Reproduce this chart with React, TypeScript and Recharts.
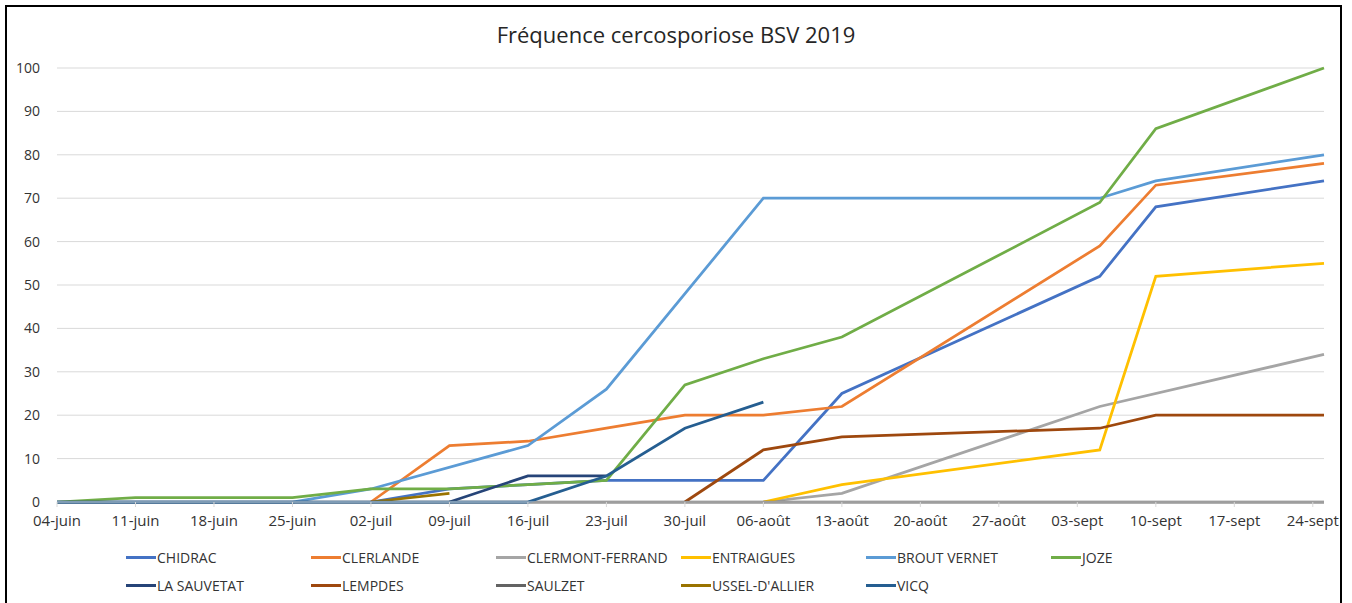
import { LineChart, Line, XAxis, YAxis, CartesianGrid } from 'recharts'

// x values are days counted from 04-juin (day 0)
const TICK_LABELS = [
  '04-juin', '11-juin', '18-juin', '25-juin', '02-juil', '09-juil', '16-juil', '23-juil',
  '30-juil', '06-août', '13-août', '20-août', '27-août', '03-sept', '10-sept', '17-sept', '24-sept',
]
const TICK_DAYS = TICK_LABELS.map((_, i) => i * 7)
const Y_TICKS = [0, 10, 20, 30, 40, 50, 60, 70, 80, 90, 100]

// [day, fréquence]
const CHIDRAC = [[28, 0], [35, 3], [42, 4], [49, 5], [56, 5], [63, 5], [70, 25], [93, 52], [98, 68], [113, 74]]
const CLERLANDE = [[28, 0], [35, 13], [42, 14], [49, 17], [56, 20], [63, 20], [70, 22], [93, 59], [98, 73], [113, 78]]
const CLERMONT = [[63, 0], [70, 2], [93, 22], [113, 34]]
const ENTRAIGUES = [[63, 0], [70, 4], [93, 12], [98, 52], [113, 55]]
const BROUT_VERNET = [[0, 0], [7, 0], [14, 0], [21, 0], [28, 3], [42, 13], [49, 26], [63, 70], [93, 70], [98, 74], [113, 80]]
const JOZE = [[0, 0], [7, 1], [14, 1], [21, 1], [28, 3], [35, 3], [42, 4], [49, 5], [56, 27], [63, 33], [70, 38], [93, 69], [98, 86], [113, 100]]
const LA_SAUVETAT = [[35, 0], [42, 6], [49, 6]]
const LEMPDES = [[56, 0], [63, 12], [70, 15], [93, 17], [98, 20], [113, 20]]
const SAULZET = [[0, 0], [7, 0], [14, 0], [21, 0], [28, 0], [35, 0], [42, 0], [49, 0], [56, 0], [63, 0], [70, 0], [93, 0], [98, 0], [113, 0]]
const USSEL = [[28, 0], [35, 2]]
const VICQ = [[0, 0], [7, 0], [14, 0], [21, 0], [28, 0], [35, 0], [42, 0], [49, 6], [56, 17], [63, 23]]

const SERIES = [
  { name: 'CHIDRAC', color: '#4472C4', pts: CHIDRAC },
  { name: 'CLERLANDE', color: '#ED7D31', pts: CLERLANDE },
  { name: 'CLERMONT-FERRAND', color: '#A5A5A5', pts: CLERMONT },
  { name: 'ENTRAIGUES', color: '#FFC000', pts: ENTRAIGUES },
  { name: 'BROUT VERNET', color: '#5B9BD5', pts: BROUT_VERNET },
  { name: 'JOZE', color: '#70AD47', pts: JOZE },
  { name: 'LA SAUVETAT', color: '#264478', pts: LA_SAUVETAT },
  { name: 'LEMPDES', color: '#9E480E', pts: LEMPDES },
  { name: 'SAULZET', color: '#636363', pts: SAULZET },
  { name: "USSEL-D'ALLIER", color: '#997300', pts: USSEL },
  { name: 'VICQ', color: '#255E91', pts: VICQ },
]

const FONT = '"Open Sans", "Noto Sans", sans-serif'
const TEXT = '#333333'

export default function App() {
  return (
    <div style={{ position: 'absolute', left: 0, top: 0, width: 1352, height: 603, background: '#fff', overflow: 'hidden', fontFamily: FONT }}>
      <div style={{ position: 'absolute', left: 5, top: 5, width: 1333, height: 620, border: '2px solid #000', overflow: 'hidden' }}>
        <div style={{ position: 'absolute', left: -7, top: -7, width: 1352, height: 603 }}>
          <div style={{ position: 'absolute', left: 0, top: 19, width: 1352, textAlign: 'center', fontSize: 22, color: '#262626' }}>
            Fréquence cercosporiose BSV 2019
          </div>
          <LineChart width={1352} height={603} margin={{ top: 68, right: 28, left: 7, bottom: 0 }}>
            <CartesianGrid horizontal vertical={false} stroke="#D9D9D9" />
            <XAxis
              type="number"
              dataKey="d"
              domain={[0, 113]}
              ticks={TICK_DAYS}
              tickFormatter={(d: number) => TICK_LABELS[d / 7]}
              interval={0}
              height={101}
              stroke="#D9D9D9"
              tickSize={5}
              tickMargin={8}
              tick={{ fill: TEXT, fontSize: 15, fontFamily: FONT }}
            />
            <YAxis
              type="number"
              domain={[0, 100]}
              ticks={Y_TICKS}
              width={50}
              axisLine={false}
              tickLine={false}
              tickSize={6}
              tickMargin={11}
              tick={{ fill: TEXT, fontSize: 14, fontFamily: FONT }}
            />
            {SERIES.map((s) => (
              <Line
                key={s.name}
                data={s.pts.map(([d, v]) => ({ d, v }))}
                dataKey="v"
                name={s.name}
                stroke={s.color}
                strokeWidth={2.75}
                dot={false}
                activeDot={false}
                isAnimationActive={false}
              />
            ))}
          </LineChart>

          {/* Legend */}
          {SERIES.map((s, i) => (
            <div
              key={s.name}
              style={{
                position: 'absolute',
                left: 126 + (i % 6) * 185,
                top: i < 6 ? 547 : 575,
                height: 20,
                display: 'flex',
                alignItems: 'center',
                fontSize: 14,
                color: TEXT,
                whiteSpace: 'nowrap',
              }}
            >
              <span style={{ width: 30, height: 3, background: s.color, marginRight: 1 }} />
              <span>{s.name}</span>
            </div>
          ))}
        </div>
      </div>
    </div>
  )
}
